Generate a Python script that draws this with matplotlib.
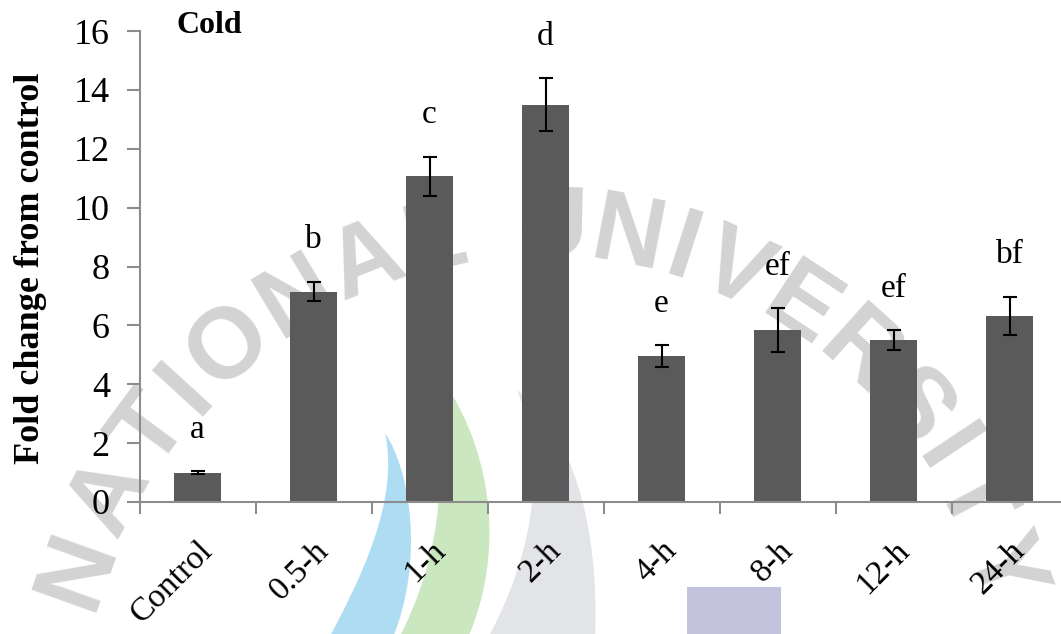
import numpy as np
import matplotlib
matplotlib.use("Agg")
import matplotlib.pyplot as plt
from matplotlib.path import Path
from matplotlib.patches import PathPatch, Rectangle
from matplotlib.transforms import ScaledTranslation

# Fold change of expression after cold treatment
categories = ["Control", "0.5-h", "1-h", "2-h", "4-h", "8-h", "12-h", "24-h"]
fold_change = [1.0, 7.15, 11.07, 13.5, 4.96, 5.83, 5.5, 6.32]
std_error = [0.04, 0.33, 0.66, 0.9, 0.37, 0.75, 0.33, 0.65]
groups = ["a", "b", "c", "d", "e", "ef", "ef", "bf"]
y_ticks = [0, 2, 4, 6, 8, 10, 12, 14, 16]

W, H = 1061, 634
fig = plt.figure(figsize=(W / 100, H / 100), dpi=100, facecolor="white")

# ---- background watermark (pixel coordinates, y downwards) ----
bg = fig.add_axes([0, 0, 1, 1], zorder=0)
bg.set_xlim(0, W)
bg.set_ylim(H, 0)
bg.axis("off")


def band(p):
    codes = [Path.MOVETO, Path.CURVE4, Path.CURVE4, Path.CURVE4,
             Path.LINETO, Path.CURVE4, Path.CURVE4, Path.CURVE4, Path.CLOSEPOLY]
    return Path(p + [p[0]], codes)


bands = [
    ([(385, 433), (410, 470), (425, 560), (392, 640), (328, 640),
      (360, 580), (400, 500), (385, 433)], "#aedcf3"),
    ([(410, 347), (470, 390), (520, 520), (467, 640), (398, 640),
      (440, 560), (460, 450), (410, 347)], "#cbe7c0"),
    ([(517, 390), (570, 430), (600, 520), (595, 640), (487, 640),
      (530, 560), (550, 470), (517, 390)], "#e2e4e8"),
]
for pts, col in bands:
    bg.add_patch(PathPatch(band(pts), facecolor=col, edgecolor="none"))
bg.add_patch(Rectangle((687, 587), 94, 60, facecolor="#c3c3de", edgecolor="none"))

# arched lettering along an ellipse
word = "NATIONAL UNIVERSITY"
widths = {"N": 1.0, "A": 1.0, "T": 0.9, "I": 0.45, "O": 1.1, "L": 0.85,
          " ": 0.6, "U": 1.0, "V": 1.0, "E": 0.9, "R": 1.0, "S": 0.9, "Y": 1.0}
w = np.array([widths[c] for c in word])
centers = np.cumsum(w) - w / 2
t0, t1 = -69.0, 69.0
params = t0 + (centers - centers[0]) / (centers[-1] - centers[0]) * (t1 - t0)
cx, cy, rx, ry = 540, 760, 495, 530
for ch, tdeg in zip(word, params):
    if ch == " ":
        continue
    t = np.radians(tdeg)
    px, py = cx + rx * np.sin(t), cy - ry * np.cos(t)
    rot = -np.degrees(np.arctan2(ry * np.sin(t), rx * np.cos(t)))
    bg.text(px, py, ch, rotation=rot, rotation_mode="anchor",
            ha="center", va="center", fontsize=72, fontweight="bold",
            family="Liberation Sans", color="#d3d3d3")

# ---- bar chart ----
x0, x1 = 139.6, 1067.6
yb, yt = 502, 31
ax = fig.add_axes([x0 / W, 1 - yb / H, (x1 - x0) / W, (yb - yt) / H], zorder=1)
ax.set_facecolor("none")

x = np.arange(len(categories))
ax.bar(x, fold_change, width=0.4, color="#5a5a5a", zorder=2)
ax.errorbar(x, fold_change, yerr=std_error, fmt="none", ecolor="black",
            elinewidth=1.5, capsize=5.2, capthick=1.5, zorder=3)

for xi, v, e, g in zip(x, fold_change, std_error, groups):
    ax.annotate(g, (xi, v + e), xytext=(0, 24), textcoords="offset points",
                ha="center", va="baseline", fontsize=24,
                family="Liberation Serif", color="black")

ax.set_xlim(-0.5, len(categories) - 0.5)
ax.set_ylim(0, 16)
ax.set_yticks(y_ticks)
ax.set_yticklabels([str(t) for t in y_ticks], fontsize=26,
                   family="Liberation Serif")

ax.set_xticks(np.arange(-0.5, len(categories), 1.0))
ax.set_xticklabels([])
ax.set_xticks(x, minor=True)
ax.set_xticklabels(categories, minor=True, fontsize=24,
                   family="Liberation Serif", rotation=45,
                   ha="right", va="top", rotation_mode="anchor")
shift = ScaledTranslation(5 / 100, 0, fig.dpi_scale_trans)
for lbl in ax.get_xticklabels(minor=True):
    lbl.set_transform(lbl.get_transform() + shift)

spine_col = "#8c8c8c"
for s in ("top", "right"):
    ax.spines[s].set_visible(False)
for s in ("left", "bottom"):
    ax.spines[s].set_color(spine_col)
    ax.spines[s].set_linewidth(1.5)
ax.tick_params(axis="y", direction="out", length=9.4, width=1.5,
               color=spine_col, pad=12)
ax.tick_params(axis="x", which="major", direction="out", length=8.6,
               width=1.5, color=spine_col)
ax.tick_params(axis="x", which="minor", length=0, pad=24)

fig.text(31 / W, 1 - 268 / H, "Fold change from control", rotation=90,
         ha="center", va="center", fontsize=26, fontweight="bold",
         family="Liberation Serif")
fig.text(177 / W, 1 - 11 / H, "Cold", ha="left", va="top", fontsize=23,
         fontweight="bold", family="Liberation Serif")

fig.savefig("out.png", dpi=100, facecolor="white")
